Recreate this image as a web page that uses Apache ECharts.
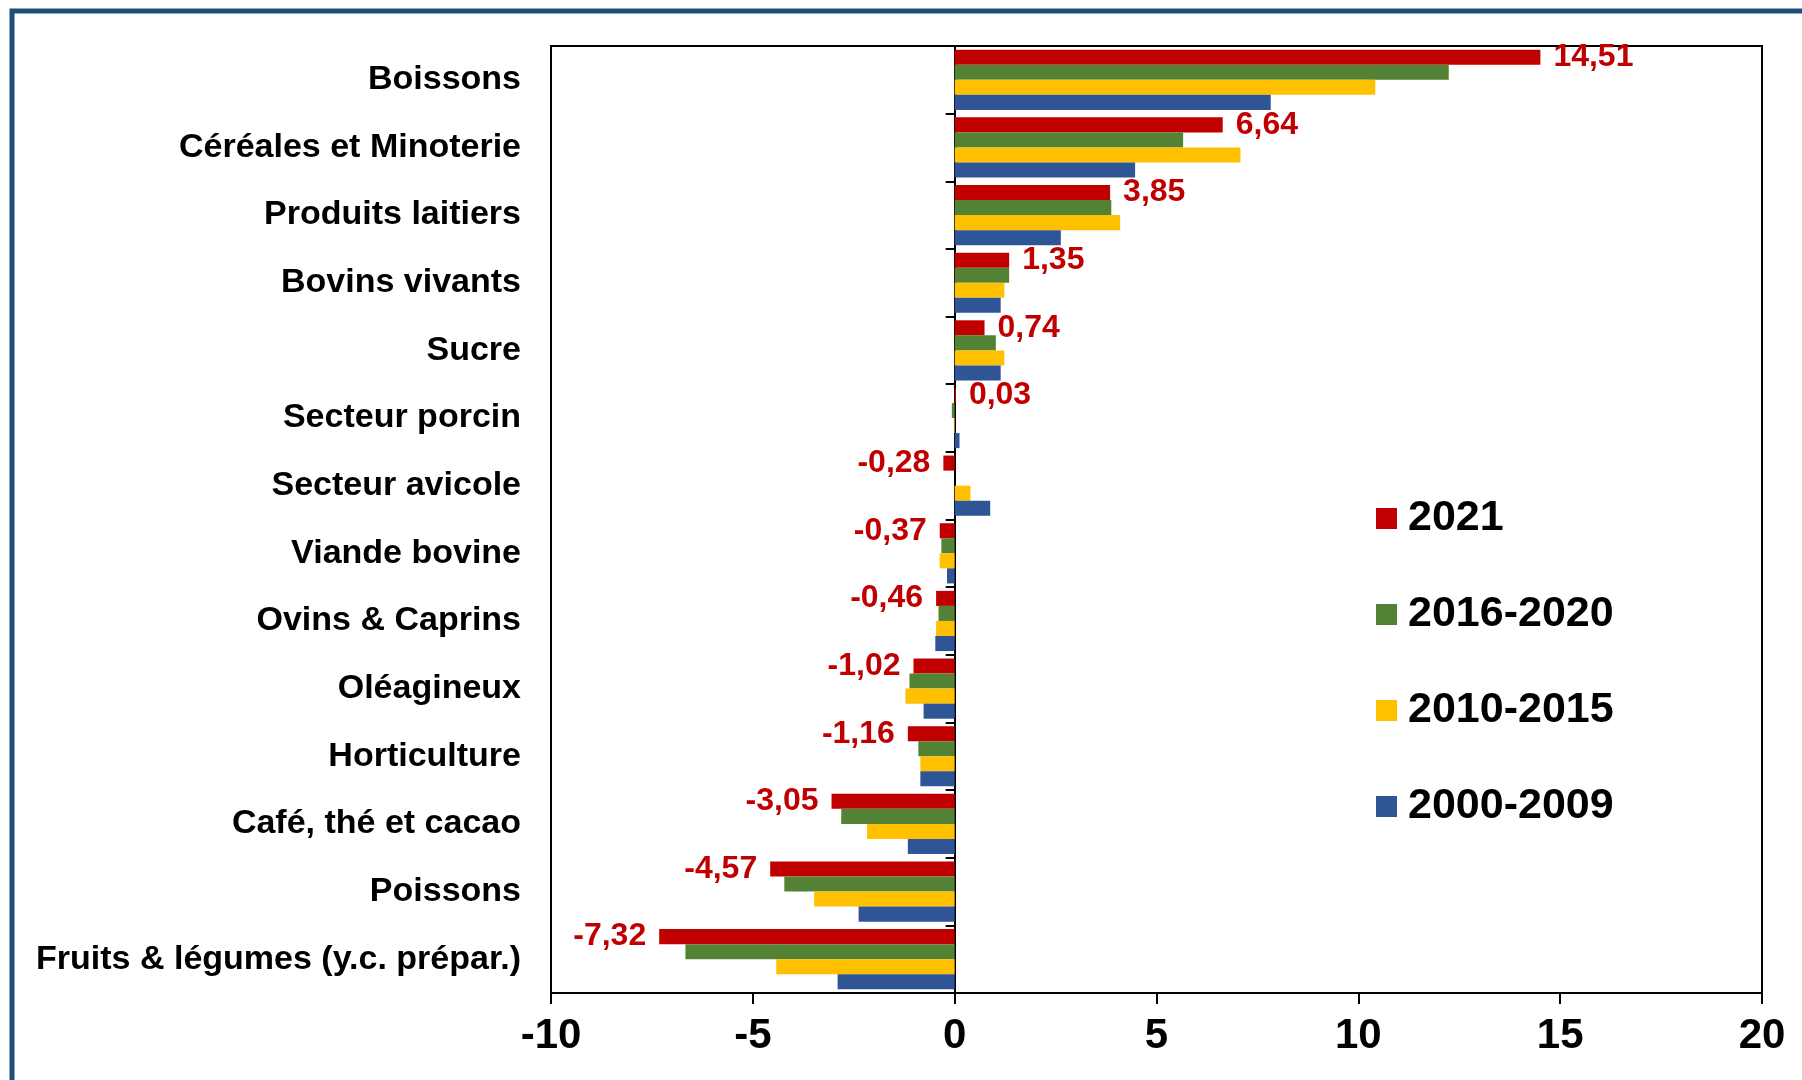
<!DOCTYPE html>
<html>
<head>
<meta charset="utf-8">
<script src="https://cdn.jsdelivr.net/npm/echarts@6/dist/echarts.min.js"></script>
<style>
  html, body { margin: 0; padding: 0; background: #fff; }
  #main { width: 1802px; height: 1080px; }
</style>
</head>
<body>
<div id="main"></div>
<script>
// catégories (haut -> bas)
const categories = [
  'Boissons', 'Céréales et Minoterie', 'Produits laitiers', 'Bovins vivants',
  'Sucre', 'Secteur porcin', 'Secteur avicole', 'Viande bovine',
  'Ovins & Caprins', 'Oléagineux', 'Horticulture', 'Café, thé et cacao',
  'Poissons', 'Fruits & légumes (y.c. prépar.)'
]
const seriesNames = ['2021', '2016-2020', '2010-2015', '2000-2009']
const v2021 = [14.51, 6.64, 3.85, 1.35, 0.74, 0.03, -0.28, -0.37, -0.46, -1.02, -1.16, -3.05, -4.57, -7.32]
const v2016_2020 = [12.24, 5.66, 3.88, 1.35, 1.02, -0.07, 0, -0.33, -0.40, -1.12, -0.90, -2.81, -4.22, -6.67]
const v2010_2015 = [10.42, 7.08, 4.10, 1.23, 1.23, -0.02, 0.39, -0.37, -0.46, -1.22, -0.85, -2.17, -3.48, -4.42]
const v2000_2009 = [7.83, 4.47, 2.63, 1.14, 1.14, 0.12, 0.88, -0.19, -0.48, -0.77, -0.85, -1.16, -2.38, -2.90]
const xTicks = { min: -10, max: 20, interval: 5 }

const colors = ['#C00000', '#548235', '#FFC000', '#2F5597']
const font = 'Liberation Sans, Arial, sans-serif'

const chart = echarts.init(document.getElementById('main'))

function barSeries(name, values, color, withLabel) {
  const s = {
    name: name,
    type: 'bar',
    barGap: '0%',
    barCategoryGap: '11%',
    itemStyle: { color: color },
    data: values
  }
  if (withLabel) {
    // étiquette à droite si positif, à gauche si négatif
    s.data = values.map(v => ({ value: v, label: { position: v < 0 ? 'left' : 'right' } }))
    s.label = {
      show: true,
      distance: 13,
      color: '#C00000',
      fontFamily: font,
      fontWeight: 'bold',
      fontSize: 32,
      formatter: p => p.value.toFixed(2).replace('.', ',')
    }
  }
  return s
}

const option = {
  backgroundColor: '#fff',
  animation: false,
  textStyle: { fontFamily: font },
  grid: {
    left: 551,
    right: 40,
    top: 46,
    bottom: 87,
    outerBoundsMode: 'none',
    containLabel: false,
    show: true,
    borderColor: '#000',
    borderWidth: 2
  },
  legend: {
    orient: 'vertical',
    left: 1371,
    top: 492,
    itemWidth: 21,
    itemHeight: 21,
    itemGap: 53,
    icon: 'rect',
    data: seriesNames,
    textStyle: {
      fontFamily: font,
      fontWeight: 'bold',
      fontSize: 43,
      lineHeight: 41,
      color: '#000',
      padding: [0, 0, 0, 6]
    }
  },
  xAxis: {
    type: 'value',
    min: xTicks.min,
    max: xTicks.max,
    interval: xTicks.interval,
    splitLine: { show: false },
    axisLine: { onZero: false, lineStyle: { color: '#000', width: 2 } },
    axisTick: { show: true, length: 11, lineStyle: { color: '#000', width: 2 } },
    axisLabel: {
      margin: 22,
      color: '#000',
      fontFamily: font,
      fontWeight: 'bold',
      fontSize: 42
    }
  },
  yAxis: {
    // ligne et graduations sur le zéro, libellés à gauche du cadre
    type: 'category',
    data: categories,
    inverse: true,
    axisLine: { onZero: true, lineStyle: { color: '#000', width: 2 } },
    axisTick: { show: true, length: 9, lineStyle: { color: '#000', width: 2 } },
    axisLabel: {
      margin: 30,
      color: '#000',
      fontFamily: font,
      fontWeight: 'bold',
      fontSize: 34
    }
  },
  graphic: [
    {
      type: 'rect',
      silent: true,
      shape: { x: 12, y: 11, width: 1800, height: 1100 },
      style: { fill: 'none', stroke: '#1F4E79', lineWidth: 5 }
    }
  ],
  series: [
    barSeries(seriesNames[0], v2021, colors[0], true),
    barSeries(seriesNames[1], v2016_2020, colors[1], false),
    barSeries(seriesNames[2], v2010_2015, colors[2], false),
    barSeries(seriesNames[3], v2000_2009, colors[3], false)
  ]
}

chart.setOption(option)
</script>
</body>
</html>
